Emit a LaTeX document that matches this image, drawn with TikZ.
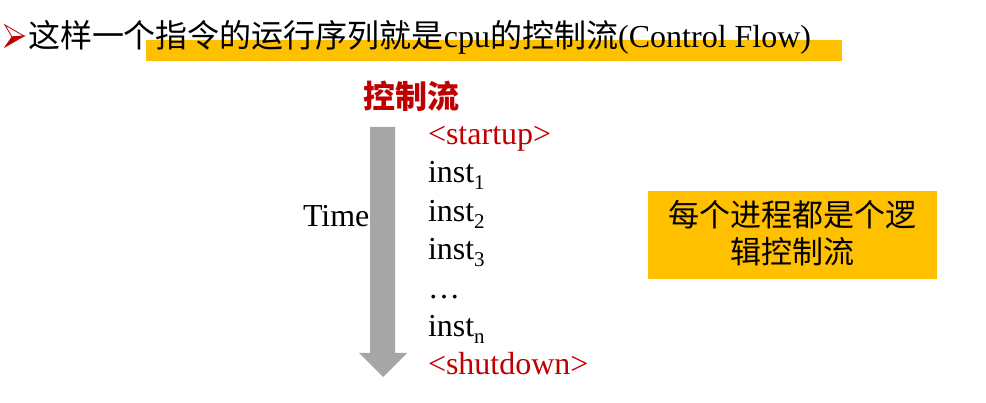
\documentclass[tikz,border=0pt]{standalone}
\usepackage{fontspec}
\setmainfont{Liberation Serif}
\newfontfamily\cjk{Noto Sans CJK SC}
\definecolor{hiyellow}{HTML}{FFC000}
\definecolor{darkred}{HTML}{C00000}
\definecolor{arrowgray}{HTML}{A6A6A6}
\newcommand\instsub[1]{\raisebox{-7pt}{\fontsize{21}{21}\selectfont #1}}
\begin{document}
\begin{tikzpicture}[x=1pt,y=-1pt,
  txt/.style={inner sep=0pt,outer sep=0pt,anchor=base west,font=\fontsize{32}{38}\selectfont},
  redtxt/.style={txt,text=darkred}]
\useasboundingbox (0,0) rectangle (986,403);
\fill[white] (0,0) rectangle (986,403);

% title line with highlight bar
\fill[hiyellow] (146,40) rectangle (842,61);
\fill[white,draw=darkred,line width=0.8pt,line join=miter] (5,25) -- (24,36) -- (12,37) -- cycle;
\fill[darkred,draw=darkred,line width=0.8pt] (12,37) -- (24,36) -- (5,47) -- cycle;
\node[txt] (title) at (28,48)
  {{\cjk 这样一个指令的运行序列就是}cpu{\cjk 的控制流}(Control Flow)};

% heading
\node[inner sep=0pt,text=darkred,font=\cjk\bfseries\fontsize{32}{38}\selectfont] (head) at (411,96) {控制流};

% time arrow
\fill[arrowgray] (370,127) -- (395,127) -- (395,353) -- (407,353) -- (383,377)
  -- (359,353) -- (370,353) -- cycle;
\node[txt] (time) at (303,227) {Time};

% instruction sequence
\node[redtxt] (startup) at (428,145) {<startup>};
\node[txt] (i1) at (428,183) {inst\instsub{1}};
\node[txt] (i2) at (428,222) {inst\instsub{2}};
\node[txt] (i3) at (428,260) {inst\instsub{3}};
\node[txt] (dots) at (428,299) {…};
\node[txt] (in) at (428,337) {inst\instsub{n}};
\node[redtxt] (shutdown) at (428,375) {<shutdown>};

% note box
\fill[hiyellow] (648,191) rectangle (937,279);
\node[inner sep=0pt,align=center,font=\cjk\fontsize{31}{37}\selectfont] (note) at (792.5,233.5)
  {每个进程都是个逻\\辑控制流};
\end{tikzpicture}
\end{document}
